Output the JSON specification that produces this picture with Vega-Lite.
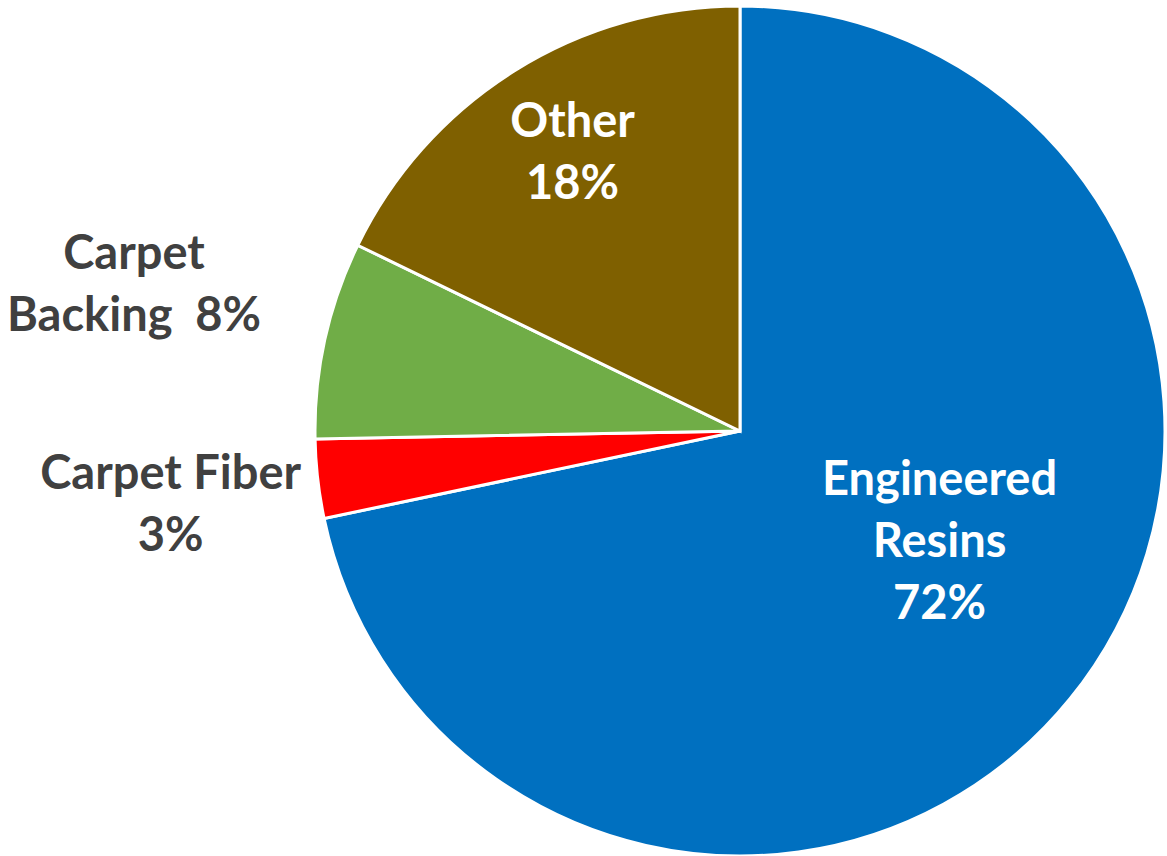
{
  "$schema": "https://vega.github.io/schema/vega-lite/v6.json",
  "autosize": {"type": "none"},
  "padding": {"left": 315, "top": 6, "right": 2, "bottom": 0},
  "width": 850,
  "height": 850,
  "background": "white",
  "config": {"view": {"stroke": null}},
  "data": {
    "values": [
      {"category": "Engineered Resins", "share": 71.7, "rank": 1, "label": "Engineered\nResins\n72%"},
      {"category": "Carpet Fiber", "share": 3.0, "rank": 2, "label": "Carpet Fiber\n3%"},
      {"category": "Carpet Backing", "share": 7.5, "rank": 3, "label": "Carpet\nBacking\u00a0 8%"},
      {"category": "Other", "share": 17.8, "rank": 4, "label": "Other\n18%"}
    ]
  },
  "encoding": {
    "theta": {"field": "share", "type": "quantitative", "stack": true},
    "order": {"field": "rank", "type": "quantitative"},
    "detail": {"field": "category", "type": "nominal"}
  },
  "layer": [
    {
      "mark": {"type": "arc", "stroke": "white", "strokeWidth": 3},
      "encoding": {
        "color": {
          "field": "category",
          "type": "nominal",
          "scale": {
            "domain": ["Engineered Resins", "Carpet Fiber", "Carpet Backing", "Other"],
            "range": ["#0070C0", "#FF0000", "#70AD47", "#7F6000"]
          },
          "legend": null
        }
      }
    },
    {
      "mark": {"type": "text", "radius": 325, "dx": 5, "dy": -33, "font": "Lato", "fontWeight": "bold", "fontSize": 47, "lineHeight": 62, "lineBreak": "\n", "fill": "white", "align": "center", "baseline": "middle"},
      "encoding": {
        "text": {"condition": {"test": "datum.category === 'Other'", "field": "label"}, "value": ""}
      }
    },
    {
      "mark": {"type": "text", "radius": 230, "dx": 21, "dy": -95, "font": "Lato", "fontWeight": "bold", "fontSize": 47, "lineHeight": 62, "lineBreak": "\n", "fill": "white", "align": "center", "baseline": "middle"},
      "encoding": {
        "text": {"condition": {"test": "datum.category === 'Engineered Resins'", "field": "label"}, "value": ""}
      }
    },
    {
      "mark": {"type": "text", "radius": 600, "dx": -20, "dy": -47, "font": "Lato", "fontWeight": "bold", "fontSize": 47, "lineHeight": 62, "lineBreak": "\n", "fill": "#404040", "align": "center", "baseline": "middle"},
      "encoding": {
        "text": {"condition": {"test": "datum.category === 'Carpet Backing'", "field": "label"}, "value": ""}
      }
    },
    {
      "mark": {"type": "text", "radius": 570, "dx": -3, "dy": -20, "font": "Lato", "fontWeight": "bold", "fontSize": 47, "lineHeight": 62, "lineBreak": "\n", "fill": "#404040", "align": "center", "baseline": "middle"},
      "encoding": {
        "text": {"condition": {"test": "datum.category === 'Carpet Fiber'", "field": "label"}, "value": ""}
      }
    }
  ]
}
